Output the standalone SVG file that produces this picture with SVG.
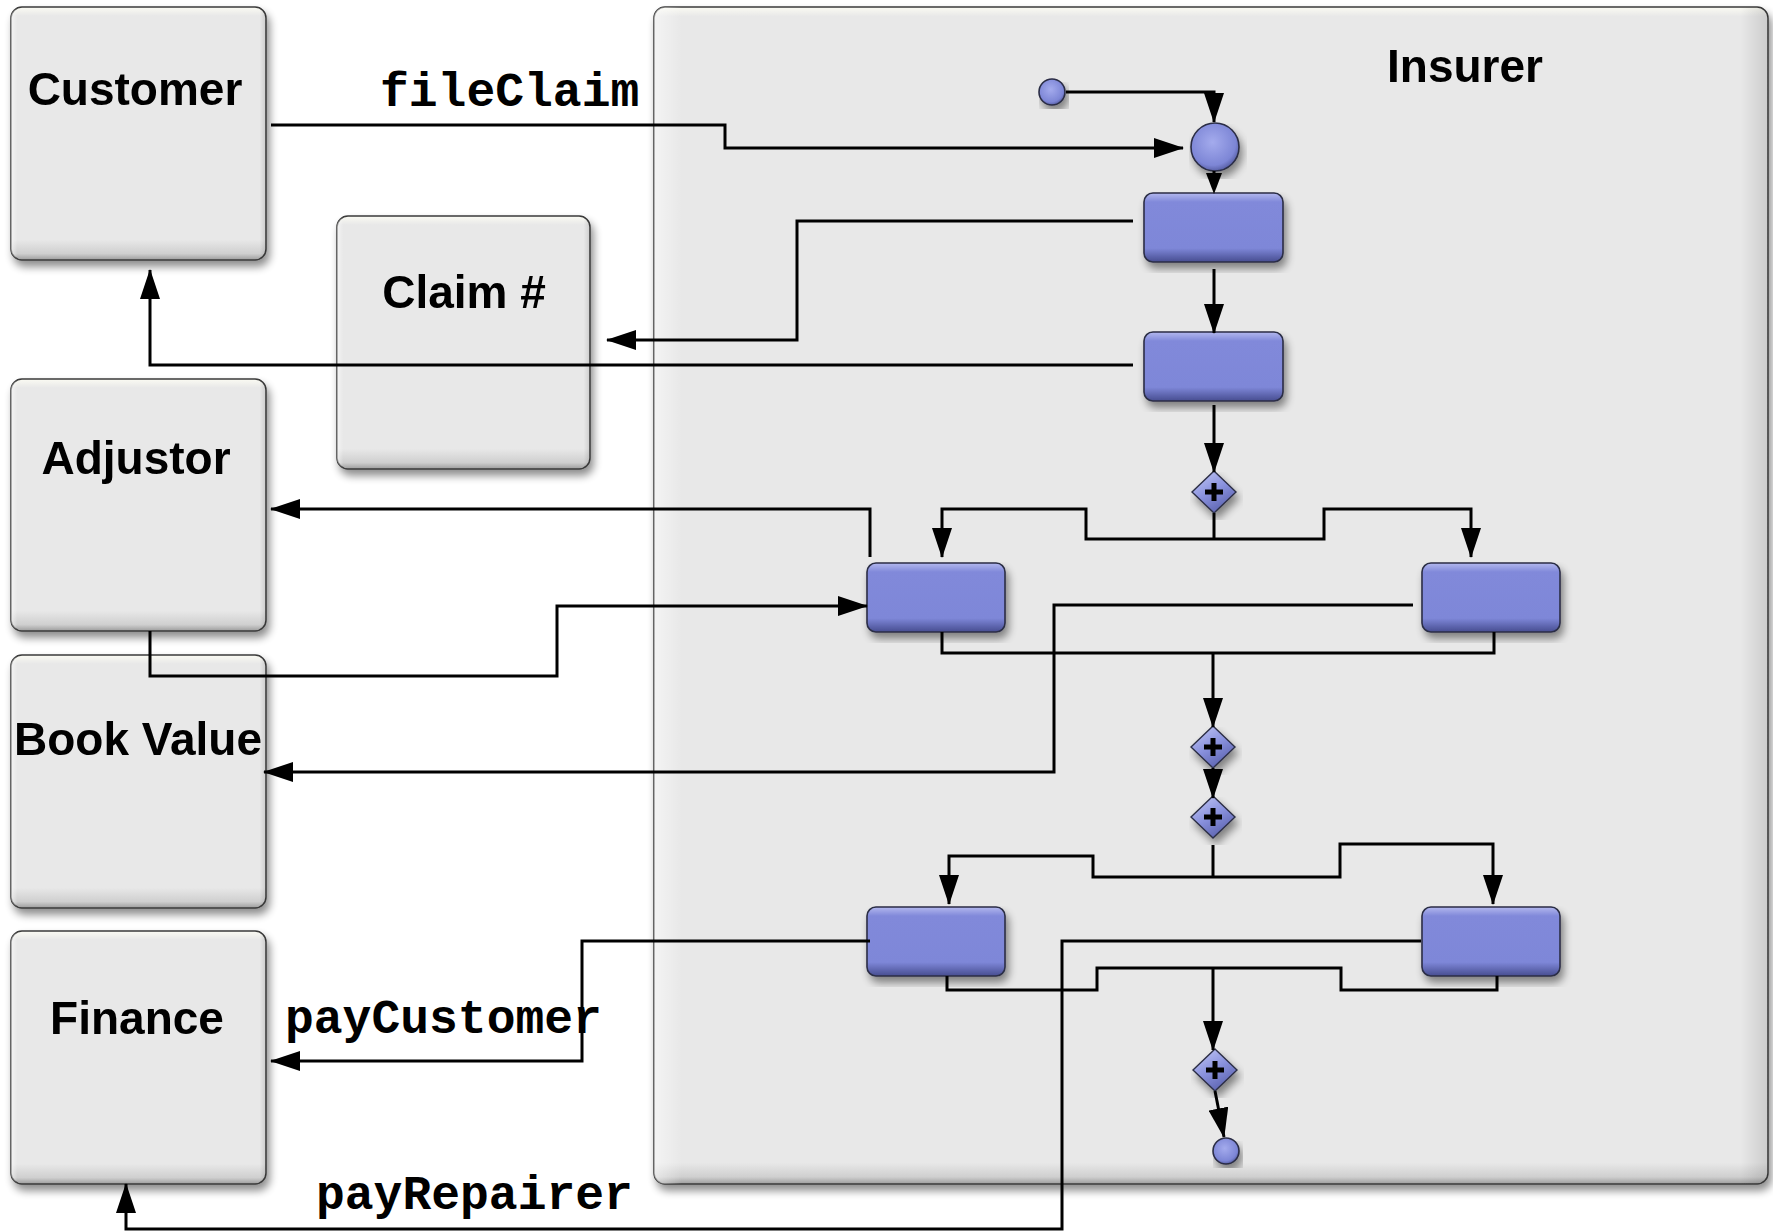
<svg xmlns="http://www.w3.org/2000/svg" width="1773" height="1232" viewBox="0 0 1773 1232">
  <style>
    .pool { stroke: #3a3a3a; stroke-width: 1.5; }
    .sheen { fill: url(#sideSheen); stroke: none; }
    .title { font-family: "Liberation Sans", Arial, Helvetica, sans-serif; font-weight: bold; font-size: 46px; fill: #000; text-anchor: middle; }
    .msg { font-family: "Liberation Mono", "Courier New", monospace; font-weight: bold; font-size: 48px; fill: #000; }
    .task { fill: url(#taskFill); stroke: #2b2d45; stroke-width: 1.6; }
    .event { fill: url(#eventFill); stroke: #2b2d45; stroke-width: 1.6; }
    .gate { fill: url(#gateFill); stroke: #2b2d45; stroke-width: 1.4; }
    .plus { fill: #000; }
    .flow { fill: none; stroke: #000; stroke-width: 3; stroke-linejoin: miter; }
    .arrow { fill: none; stroke: #000; stroke-width: 3; marker-end: url(#head); }
  </style>
  <defs>
    <filter id="shadow" x="-10%" y="-10%" width="125%" height="125%">
      <feGaussianBlur in="SourceAlpha" stdDeviation="4"/>
      <feOffset dx="3" dy="6" result="b"/>
      <feComponentTransfer><feFuncA type="linear" slope="0.45"/></feComponentTransfer>
      <feMerge><feMergeNode/><feMergeNode in="SourceGraphic"/></feMerge>
    </filter>
    <linearGradient id="laneFill" x1="0" y1="0" x2="0" y2="1">
      <stop offset="0" stop-color="#fbfbf3"/>
      <stop offset="0.035" stop-color="#e8e8e8"/>
      <stop offset="0.92" stop-color="#e8e8e8"/>
      <stop offset="0.975" stop-color="#cfcfcf"/>
      <stop offset="1" stop-color="#9c9c9c"/>
    </linearGradient>
    <linearGradient id="poolFill" x1="0" y1="0" x2="0" y2="1">
      <stop offset="0" stop-color="#fbfbf3"/>
      <stop offset="0.008" stop-color="#e8e8e8"/>
      <stop offset="0.982" stop-color="#e8e8e8"/>
      <stop offset="0.994" stop-color="#cfcfcf"/>
      <stop offset="1" stop-color="#9c9c9c"/>
    </linearGradient>
    <linearGradient id="sideSheen" x1="0" y1="0" x2="1" y2="0">
      <stop offset="0" stop-color="#ffffff" stop-opacity="0.5"/>
      <stop offset="0.025" stop-color="#ffffff" stop-opacity="0"/>
      <stop offset="0.975" stop-color="#000000" stop-opacity="0"/>
      <stop offset="1" stop-color="#000000" stop-opacity="0.12"/>
    </linearGradient>
    <linearGradient id="taskFill" x1="0" y1="0" x2="0" y2="1">
      <stop offset="0" stop-color="#b3b8ee"/>
      <stop offset="0.13" stop-color="#8189da"/>
      <stop offset="0.8" stop-color="#7e87d8"/>
      <stop offset="1" stop-color="#474d90"/>
    </linearGradient>
    <radialGradient id="eventFill" cx="0.45" cy="0.4" r="0.6">
      <stop offset="0" stop-color="#a4abed"/>
      <stop offset="0.8" stop-color="#7d86d6"/>
      <stop offset="1" stop-color="#5a61a8"/>
    </radialGradient>
    <linearGradient id="gateFill" x1="0" y1="0" x2="0.6" y2="1">
      <stop offset="0" stop-color="#c8cdf6"/>
      <stop offset="0.55" stop-color="#8a92de"/>
      <stop offset="1" stop-color="#5d64b0"/>
    </linearGradient>
    <marker id="head" markerUnits="userSpaceOnUse" markerWidth="30" markerHeight="20" refX="29" refY="10" orient="auto">
      <path d="M0,0 L30,10 L0,20 Z" fill="#000"/>
    </marker>
  </defs>

  <rect width="1773" height="1232" fill="#ffffff"/>

  <!-- participant pools -->
  <g id="insurer" filter="url(#shadow)">
    <rect class="pool" x="654" y="7" width="1114" height="1177" rx="11" fill="url(#poolFill)"/>
    <rect class="sheen" x="654" y="7" width="1114" height="1177" rx="11"/>
    <text class="title" x="1465" y="82">Insurer</text>
  </g>
  <g id="customer" filter="url(#shadow)">
    <rect class="pool" x="11" y="7" width="255" height="253" rx="11" fill="url(#laneFill)"/>
    <rect class="sheen" x="11" y="7" width="255" height="253" rx="11"/>
    <text class="title" x="135" y="105">Customer</text>
  </g>
  <g id="claim-number" filter="url(#shadow)">
    <rect class="pool" x="337" y="216" width="253" height="253" rx="11" fill="url(#laneFill)"/>
    <rect class="sheen" x="337" y="216" width="253" height="253" rx="11"/>
    <text class="title" x="464" y="308">Claim #</text>
  </g>
  <g id="adjustor" filter="url(#shadow)">
    <rect class="pool" x="11" y="379" width="255" height="252" rx="11" fill="url(#laneFill)"/>
    <rect class="sheen" x="11" y="379" width="255" height="252" rx="11"/>
    <text class="title" x="136" y="474">Adjustor</text>
  </g>
  <g id="book-value" filter="url(#shadow)">
    <rect class="pool" x="11" y="655" width="255" height="253" rx="11" fill="url(#laneFill)"/>
    <rect class="sheen" x="11" y="655" width="255" height="253" rx="11"/>
    <text class="title" x="138" y="755">Book Value</text>
  </g>
  <g id="finance" filter="url(#shadow)">
    <rect class="pool" x="11" y="931" width="255" height="253" rx="11" fill="url(#laneFill)"/>
    <rect class="sheen" x="11" y="931" width="255" height="253" rx="11"/>
    <text class="title" x="137" y="1034">Finance</text>
  </g>

  <!-- process elements inside Insurer -->
  <g id="start-event" filter="url(#shadow)">
    <circle class="event" cx="1052" cy="92" r="13"/>
  </g>
  <g id="receive-claim" filter="url(#shadow)">
    <circle class="event" cx="1215" cy="147" r="24"/>
  </g>
  <g id="task-assign-number" filter="url(#shadow)">
    <rect class="task" x="1144" y="193" width="139" height="69" rx="9"/>
  </g>
  <g id="task-notify-customer" filter="url(#shadow)">
    <rect class="task" x="1144" y="332" width="139" height="69" rx="9"/>
  </g>
  <g id="split-1" filter="url(#shadow)">
    <polygon class="gate" points="1214,471 1236,492 1214,513 1192,492"/>
    <rect class="plus" x="1205" y="489.5" width="18" height="5"/>
    <rect class="plus" x="1211.5" y="483" width="5" height="18"/>
  </g>
  <g id="task-adjust" filter="url(#shadow)">
    <rect class="task" x="867" y="563" width="138" height="69" rx="9"/>
  </g>
  <g id="task-book-value" filter="url(#shadow)">
    <rect class="task" x="1422" y="563" width="138" height="69" rx="9"/>
  </g>
  <g id="join-1" filter="url(#shadow)">
    <polygon class="gate" points="1213,726 1235,747 1213,768 1191,747"/>
    <rect class="plus" x="1204" y="744.5" width="18" height="5"/>
    <rect class="plus" x="1210.5" y="738" width="5" height="18"/>
  </g>
  <g id="split-2" filter="url(#shadow)">
    <polygon class="gate" points="1213,796 1235,817 1213,838 1191,817"/>
    <rect class="plus" x="1204" y="814.5" width="18" height="5"/>
    <rect class="plus" x="1210.5" y="808" width="5" height="18"/>
  </g>
  <g id="task-pay-customer" filter="url(#shadow)">
    <rect class="task" x="867" y="907" width="138" height="69" rx="9"/>
  </g>
  <g id="task-pay-repairer" filter="url(#shadow)">
    <rect class="task" x="1422" y="907" width="138" height="69" rx="9"/>
  </g>
  <g id="join-2" filter="url(#shadow)">
    <polygon class="gate" points="1215,1049 1237,1070 1215,1091 1193,1070"/>
    <rect class="plus" x="1206" y="1067.5" width="18" height="5"/>
    <rect class="plus" x="1212.5" y="1061" width="5" height="18"/>
  </g>
  <g id="end-event" filter="url(#shadow)">
    <circle class="event" cx="1226" cy="1151" r="13"/>
  </g>

  <!-- sequence and message flows -->
  <g id="connectors">
    <path class="arrow" d="M1066,92 H1214 V122"/>
    <path class="arrow" d="M271,125 H725 V148 H1183"/>
    <path class="flow" d="M1214,171 V180"/>
    <polygon points="1206,173 1222,173 1214,194" fill="#000"/>
    <path class="arrow" d="M1133,221 H797 V340 H607"/>
    <path class="arrow" d="M1214,269 V333"/>
    <path class="arrow" d="M1133,365 H150 V270"/>
    <path class="arrow" d="M1214,405 V472"/>
    <path class="flow" d="M1214,513 V539"/>
    <path class="arrow" d="M1214,539 H1086 V509 H942 V557"/>
    <path class="arrow" d="M1214,539 H1324 V509 H1471 V557"/>
    <path class="arrow" d="M870,557 V509 H271"/>
    <path class="arrow" d="M150,631 V676 H557 V606 H867"/>
    <path class="arrow" d="M1413,605 H1054 V772 H264"/>
    <path class="flow" d="M942,632 V653 H1494 V632"/>
    <path class="arrow" d="M1213,653 V727"/>
    <path class="arrow" d="M1213,768 V798"/>
    <path class="flow" d="M1213,845 V877"/>
    <path class="arrow" d="M1213,877 H1093 V856 H949 V904"/>
    <path class="arrow" d="M1213,877 H1340 V844 H1493 V904"/>
    <path class="arrow" d="M870,941 H582 V1061 H271"/>
    <path class="arrow" d="M1421,941 H1062 V1229 H126 V1184"/>
    <path class="flow" d="M947,976 V990 H1097 V968 H1341 V990 H1497 V976"/>
    <path class="arrow" d="M1213,968 V1050"/>
    <path class="arrow" d="M1215,1091 L1224,1137"/>
  </g>

  <!-- message labels -->
  <text class="msg" x="380" y="106">fileClaim</text>
  <text class="msg" x="285" y="1033">payCustomer</text>
  <text class="msg" x="316" y="1209">payRepairer</text>
</svg>
